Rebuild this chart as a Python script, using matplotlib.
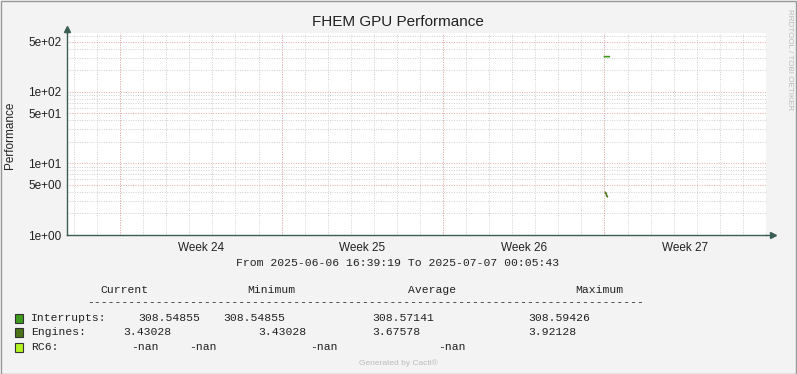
import datetime as dt
import matplotlib
matplotlib.use("Agg")
import matplotlib.pyplot as plt
import matplotlib.dates as mdates
from matplotlib.ticker import FixedLocator, NullFormatter
from matplotlib.patches import Rectangle

plt.rcParams["font.family"] = ["Liberation Sans", "DejaVu Sans"]

# time range of the graph
t_start = dt.datetime(2025, 6, 6, 16, 39, 19)
t_end = dt.datetime(2025, 7, 7, 0, 5, 43)

# the only samples visible in the graph
int_times = [dt.datetime(2025, 6, 30, 0, 0), dt.datetime(2025, 6, 30, 2, 30), dt.datetime(2025, 6, 30, 5, 0)]
int_values = [308.59426, 308.57141, 308.54855]
eng_times = [dt.datetime(2025, 6, 30, 1, 0), dt.datetime(2025, 6, 30, 1, 40), dt.datetime(2025, 6, 30, 2, 20), dt.datetime(2025, 6, 30, 3, 0)]
eng_values = [3.92128, 3.80, 3.55, 3.43028]

week_labels = ["Week 24", "Week 25", "Week 26", "Week 27"]
week_centers = [dt.datetime(2025, 6, 12, 12), dt.datetime(2025, 6, 19, 12),
                dt.datetime(2025, 6, 26, 12), dt.datetime(2025, 7, 3, 12)]
week_starts = [dt.datetime(2025, 6, 9), dt.datetime(2025, 6, 16), dt.datetime(2025, 6, 23),
               dt.datetime(2025, 6, 30), dt.datetime(2025, 7, 7)]

y_major = [1, 5, 10, 50, 100, 500]
y_labels = ["1e+00", "5e+00", "1e+01", "5e+01", "1e+02", "5e+02"]
y_minor = [m * 10 ** e for e in range(0, 3) for m in (2, 3, 4, 6, 7, 8, 9)]

legend_names = ["Interrupts:", "Engines:", "RC6:"]
legend_colors = ["#3f9b1c", "#4a7417", "#b4f420"]
cur_vals = ["308.54855", "3.43028", "-nan"]
min_vals = ["308.54855", "3.43028", "-nan"]
avg_vals = ["308.57141", "3.67578", "-nan"]
max_vals = ["308.59426", "3.92128", "-nan"]

W, H = 797, 374
fig = plt.figure(figsize=(W / 100, H / 100), dpi=100, facecolor="#f3f3f3")
ax = fig.add_axes([67 / W, (H - 235) / H, (766 - 67) / W, (235 - 33) / H])
ax.set_facecolor("white")

grid_red = "#e8a8a8"
grid_gray = "#cfcfcf"
dot = (0, (1, 1.5))

ax.set_yscale("log")
ax.set_ylim(1, 660)
ax.set_xlim(t_start, t_end)

# grid lines drawn by hand so the two colours can be kept
for v in y_minor:
    ax.axhline(v, color=grid_gray, lw=0.7, ls=dot, zorder=0)
for v in y_major:
    ax.axhline(v, color=grid_red, lw=0.7, ls=dot, zorder=1)
day = t_start.replace(hour=0, minute=0, second=0) + dt.timedelta(days=1)
while day < t_end:
    ax.axvline(day, color=grid_gray, lw=0.7, ls=dot, zorder=0)
    day += dt.timedelta(days=1)
for d in week_starts:
    ax.axvline(d, color=grid_red, lw=0.7, ls=dot, zorder=1)

ax.plot(int_times, int_values, color=legend_colors[0], lw=1.2, zorder=3)
ax.plot(eng_times, eng_values, color=legend_colors[1], lw=1.2, zorder=3)

ax.yaxis.set_major_locator(FixedLocator(y_major))
ax.set_yticklabels(y_labels)
ax.yaxis.set_minor_locator(FixedLocator(y_minor))
ax.yaxis.set_minor_formatter(NullFormatter())
ax.xaxis.set_major_locator(FixedLocator(mdates.date2num(week_centers)))
ax.set_xticklabels(week_labels)
ax.tick_params(axis="both", which="both", length=0, labelsize=8.5, colors="#222222", pad=4)
ax.tick_params(axis="x", pad=5)

axis_col = "#3b5e54"
for s in ("top", "right"):
    ax.spines[s].set_visible(False)
for s in ("left", "bottom"):
    ax.spines[s].set_color(axis_col)
    ax.spines[s].set_linewidth(1.0)
ax.plot([0], [1.02], marker="^", color=axis_col, ms=5, transform=ax.transAxes, clip_on=False)
ax.plot([1.01], [0], marker=">", color=axis_col, ms=5, transform=ax.transAxes, clip_on=False)
ax.plot([0, 0], [1, 1.02], color=axis_col, lw=1, transform=ax.transAxes, clip_on=False)
ax.plot([1, 1.01], [0, 0], color=axis_col, lw=1, transform=ax.transAxes, clip_on=False)

ax.set_ylabel("Performance", fontsize=8.5, color="#222222", va="center")
ax.yaxis.set_label_coords((10 - 67) / (766 - 67), (235 - 135) / (235 - 33))

fig.text(398 / W, 1 - 22 / H, "FHEM GPU Performance", ha="center", va="center", fontsize=11, color="#222222")
fig.text(789 / W, 1 - 60 / H, "RRDTOOL / TOBI OETIKER", ha="center", va="center", rotation=270,
         fontsize=5.8, color="#bbbbbb")

mono = "Liberation Mono"
fs = 8.2
tcol = "#222222"
fig.text(398 / W, 1 - 263 / H, "From 2025-06-06 16:39:19 To 2025-07-07 00:05:43", ha="center", va="center",
         family=mono, fontsize=fs, color=tcol)
for name, x in zip(["Current", "Minimum", "Average", "Maximum"], [100, 247, 408, 575]):
    fig.text(x / W, 1 - 290 / H, name, ha="left", va="center", family=mono, fontsize=fs, color=tcol)
fig.text(87 / W, 1 - 302 / H, "-" * 81, ha="left", va="center", family=mono, fontsize=fs, color=tcol)

rows_y = [318, 332, 347]
cur_x = [138, 123, 131]
min_x = [223, 258, 189]
avg_x = [372, 372, 310]
max_x = [528, 528, 438]
for i, y in enumerate(rows_y):
    fig.patches.append(Rectangle((15 / W, 1 - (y + 4.5) / H), 8 / W, 9 / H, transform=fig.transFigure,
                                 facecolor=legend_colors[i], edgecolor="#333333", lw=0.8))
    fig.text(31 / W, 1 - y / H, legend_names[i], ha="left", va="center", family=mono, fontsize=fs, color=tcol)
    for vals, xs in ((cur_vals, cur_x), (min_vals, min_x), (avg_vals, avg_x), (max_vals, max_x)):
        fig.text(xs[i] / W, 1 - y / H, vals[i], ha="left", va="center", family=mono, fontsize=fs, color=tcol)

fig.text(398 / W, 1 - 363 / H, "Generated by Cacti®", ha="center", va="center", fontsize=6, color="#bbbbbb")

fig.patches.append(Rectangle((0.5 / W, 0.5 / H), (W - 1.5) / W, (H - 1.5) / H, transform=fig.transFigure,
                             facecolor="none", edgecolor="#999999", lw=1))

fig.savefig("out.png", dpi=100, facecolor=fig.get_facecolor())
